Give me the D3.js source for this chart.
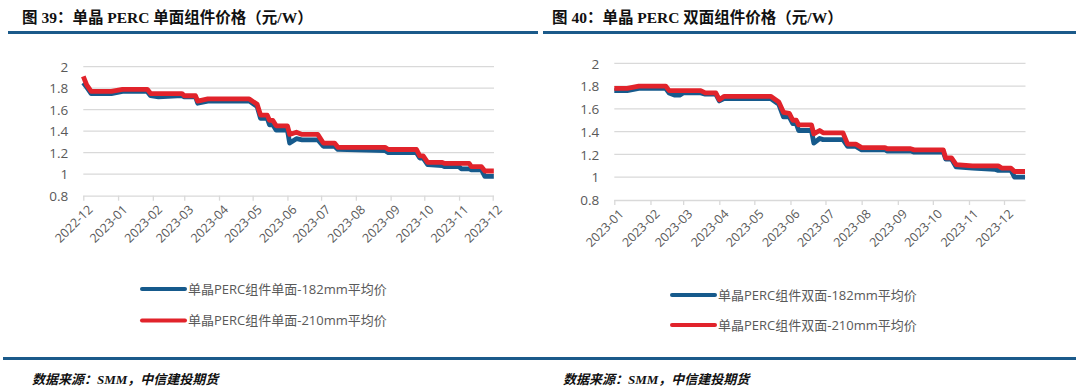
<!DOCTYPE html>
<html>
<head>
<meta charset="utf-8">
<script src="https://cdn.jsdelivr.net/npm/d3@7"></script>
<style>
  body { margin: 0; background: #fff; }
  svg text { font-family: "Open Sans", "Noto Sans CJK SC", sans-serif; }
  .title { font-family: "Liberation Serif", "Noto Sans CJK SC", serif !important; font-weight: bold; font-size: 15.5px; fill: #111; }
  .source { font-family: "Liberation Serif", "Noto Sans CJK SC", serif !important; font-weight: bold; font-style: italic; font-size: 13px; fill: #111; }
  .tick text { fill: #595959; }
  .legend text { fill: #595959; font-size: 13px; }
</style>
</head>
<body>
<svg id="chart" width="1080" height="389"></svg>
<script>
// ---- data ----
let yTicks = [0.8, 1, 1.2, 1.4, 1.6, 1.8, 2];

// chart 39: single-sided modules, Dec 2022 - Dec 2023
let dates39 = ["2022-12-01","2022-12-04","2022-12-08","2022-12-26","2023-01-05","2023-01-27","2023-01-30",
  "2023-02-06","2023-02-27","2023-03-01","2023-03-11","2023-03-13","2023-03-22","2023-04-28","2023-05-05",
  "2023-05-08","2023-05-14","2023-05-16","2023-05-19","2023-05-22","2023-06-01","2023-06-03","2023-06-09",
  "2023-06-14","2023-06-28","2023-07-03","2023-07-13","2023-07-16","2023-08-27","2023-08-30","2023-09-24",
  "2023-09-27","2023-09-30","2023-10-04","2023-10-17","2023-10-19","2023-11-01","2023-11-03","2023-11-10",
  "2023-11-12","2023-11-21","2023-11-24","2023-12-02"];
let single182 = [1.85,1.81,1.75,1.75,1.77,1.77,1.73,1.72,1.73,1.72,1.72,1.66,1.68,1.68,1.63,
  1.52,1.52,1.46,1.46,1.41,1.41,1.29,1.33,1.32,1.32,1.26,1.26,1.23,1.22,1.20,1.20,
  1.15,1.15,1.09,1.08,1.07,1.07,1.05,1.05,1.04,1.04,0.98,0.98];
let single210 = [1.91,1.83,1.77,1.77,1.79,1.79,1.75,1.75,1.75,1.73,1.73,1.68,1.70,1.70,1.65,
  1.55,1.55,1.50,1.50,1.45,1.45,1.37,1.39,1.37,1.37,1.29,1.29,1.25,1.25,1.23,1.23,
  1.17,1.17,1.11,1.11,1.10,1.10,1.10,1.10,1.07,1.07,1.03,1.03];
let months39 = ["2022-12","2023-01","2023-02","2023-03","2023-04","2023-05","2023-06",
  "2023-07","2023-08","2023-09","2023-10","2023-11","2023-12"];

// chart 40: bifacial modules, Jan 2023 - Dec 2023
let dates40 = ["2023-01-01","2023-01-12","2023-01-22","2023-02-14","2023-02-17","2023-02-22","2023-02-26",
  "2023-03-01","2023-03-16","2023-03-20","2023-03-29","2023-04-01","2023-04-05","2023-05-15","2023-05-22",
  "2023-05-26","2023-05-31","2023-06-03","2023-06-06","2023-06-08","2023-06-19","2023-06-21","2023-06-26",
  "2023-06-29","2023-07-16","2023-07-20","2023-07-27","2023-08-01","2023-08-21","2023-08-23","2023-09-12",
  "2023-09-15","2023-10-10","2023-10-12","2023-10-17","2023-10-21","2023-11-04","2023-11-23","2023-11-26",
  "2023-11-29","2023-12-07","2023-12-10","2023-12-19"];
let bifacial182 = [1.76,1.76,1.78,1.78,1.74,1.72,1.72,1.74,1.74,1.73,1.73,1.67,1.69,1.69,1.64,
  1.53,1.53,1.47,1.47,1.41,1.41,1.30,1.34,1.33,1.33,1.27,1.27,1.24,1.24,1.23,1.23,
  1.22,1.22,1.16,1.16,1.09,1.08,1.07,1.06,1.06,1.06,1.00,1.00];
let bifacial210 = [1.78,1.78,1.80,1.80,1.76,1.76,1.76,1.76,1.76,1.74,1.74,1.68,1.71,1.71,1.66,
  1.57,1.56,1.50,1.50,1.46,1.46,1.38,1.41,1.39,1.39,1.29,1.29,1.26,1.26,1.25,1.25,
  1.24,1.24,1.17,1.17,1.11,1.10,1.10,1.10,1.08,1.08,1.05,1.05];
let months40 = ["2023-01","2023-02","2023-03","2023-04","2023-05","2023-06",
  "2023-07","2023-08","2023-09","2023-10","2023-11","2023-12"];

let blue = "#165a8c";
let red = "#e1232b";
let parseDay = d3.timeParse("%Y-%m-%d");
let parseMonth = d3.timeParse("%Y-%m");

let svg = d3.select("#chart");

// title + rules
function header(x0, x1, titleX, title) {
  svg.append("text").attr("class", "title").attr("x", titleX).attr("y", 23).text(title);
  svg.append("rect").attr("x", x0).attr("y", 31).attr("width", x1 - x0).attr("height", 3).attr("fill", "#1b5a8a");
}
header(8, 538, 22, "图 39：单晶 PERC 单面组件价格（元/W）");
header(543, 1076, 552, "图 40：单晶 PERC 双面组件价格（元/W）");
svg.append("rect").attr("x", 3).attr("y", 357).attr("width", 1073).attr("height", 3).attr("fill", "#1b5a8a");
svg.append("text").attr("class", "source").attr("x", 32).attr("y", 384).text("数据来源：SMM，中信建投期货");
svg.append("text").attr("class", "source").attr("x", 563).attr("y", 384).text("数据来源：SMM，中信建投期货");

function drawChart(cfg) {
  let x = d3.scaleTime().domain(cfg.domain).range([cfg.left, cfg.tickEnd]);
  let y = d3.scaleLinear().domain([0.8, 2]).range([cfg.bottom, cfg.top]);
  let g = svg.append("g");

  // gridlines
  g.selectAll("line.grid")
    .data(yTicks.slice(1))
    .enter()
    .append("line")
    .attr("x1", cfg.left).attr("x2", cfg.right)
    .attr("y1", d => y(d)).attr("y2", d => y(d))
    .attr("stroke", "#d9d9d9").attr("stroke-width", 1.3);

  // y axis
  let yAxis = g.append("g")
    .attr("transform", `translate(${cfg.left - 12},0)`)
    .call(d3.axisLeft(y).tickValues(yTicks).tickFormat(d => String(d)).tickSize(0));
  yAxis.select(".domain").remove();
  yAxis.selectAll("text").attr("font-size", 13.5).attr("dy", "0.35em");

  // x axis
  let xAxis = g.append("g")
    .attr("transform", `translate(0,${cfg.bottom})`)
    .call(d3.axisBottom(x).tickValues(cfg.months.map(parseMonth))
      .tickFormat(d3.timeFormat("%Y-%m")).tickSize(5).tickSizeOuter(0));
  xAxis.select(".domain").attr("d", `M${cfg.left},0.5H${cfg.right}`).attr("stroke", "#d9d9d9").attr("stroke-width", 1.3);
  xAxis.selectAll(".tick line").attr("stroke", "#d9d9d9").attr("stroke-width", 1.3);
  xAxis.selectAll("text")
    .attr("font-size", 12.5)
    .attr("text-anchor", "end")
    .attr("dy", 0)
    .attr("transform", "translate(4,9) rotate(-45)");

  // lines
  let line = vals => d3.line()
    .x((d, i) => x(parseDay(d)))
    .y((d, i) => y(vals[i]));
  g.append("path").datum(cfg.dates)
    .attr("d", line(cfg.s182)).attr("fill", "none")
    .attr("stroke", blue).attr("stroke-width", 4.8).attr("stroke-linejoin", "round");
  g.append("path").datum(cfg.dates)
    .attr("d", line(cfg.s210)).attr("fill", "none")
    .attr("stroke", red).attr("stroke-width", 4.8).attr("stroke-linejoin", "round");

  // legend
  let lg = svg.append("g").attr("class", "legend");
  [[cfg.names[0], blue, cfg.legY[0]], [cfg.names[1], red, cfg.legY[1]]].forEach(item => {
    lg.append("line")
      .attr("x1", cfg.legX).attr("x2", cfg.legX + 43)
      .attr("y1", item[2]).attr("y2", item[2])
      .attr("stroke", item[1]).attr("stroke-width", 4).attr("stroke-linecap", "round");
    lg.append("text")
      .attr("x", cfg.legX + 46).attr("y", item[2]).attr("dy", "0.36em")
      .text(item[0]);
  });
}

drawChart({
  domain: [parseDay("2022-12-01"), parseDay("2023-12-01")],
  left: 83.3, tickEnd: 492.7, right: 494, top: 66.7, bottom: 195.7,
  months: months39, dates: dates39, s182: single182, s210: single210,
  names: ["单晶PERC组件单面-182mm平均价", "单晶PERC组件单面-210mm平均价"],
  legX: 142, legY: [289, 320.5]
});

drawChart({
  domain: [parseDay("2023-01-01"), parseDay("2023-12-01")],
  left: 614.3, tickEnd: 1004, right: 1025.5, top: 63.3, bottom: 200,
  months: months40, dates: dates40, s182: bifacial182, s210: bifacial210,
  names: ["单晶PERC组件双面-182mm平均价", "单晶PERC组件双面-210mm平均价"],
  legX: 672, legY: [295, 325]
});
</script>
</body>
</html>
